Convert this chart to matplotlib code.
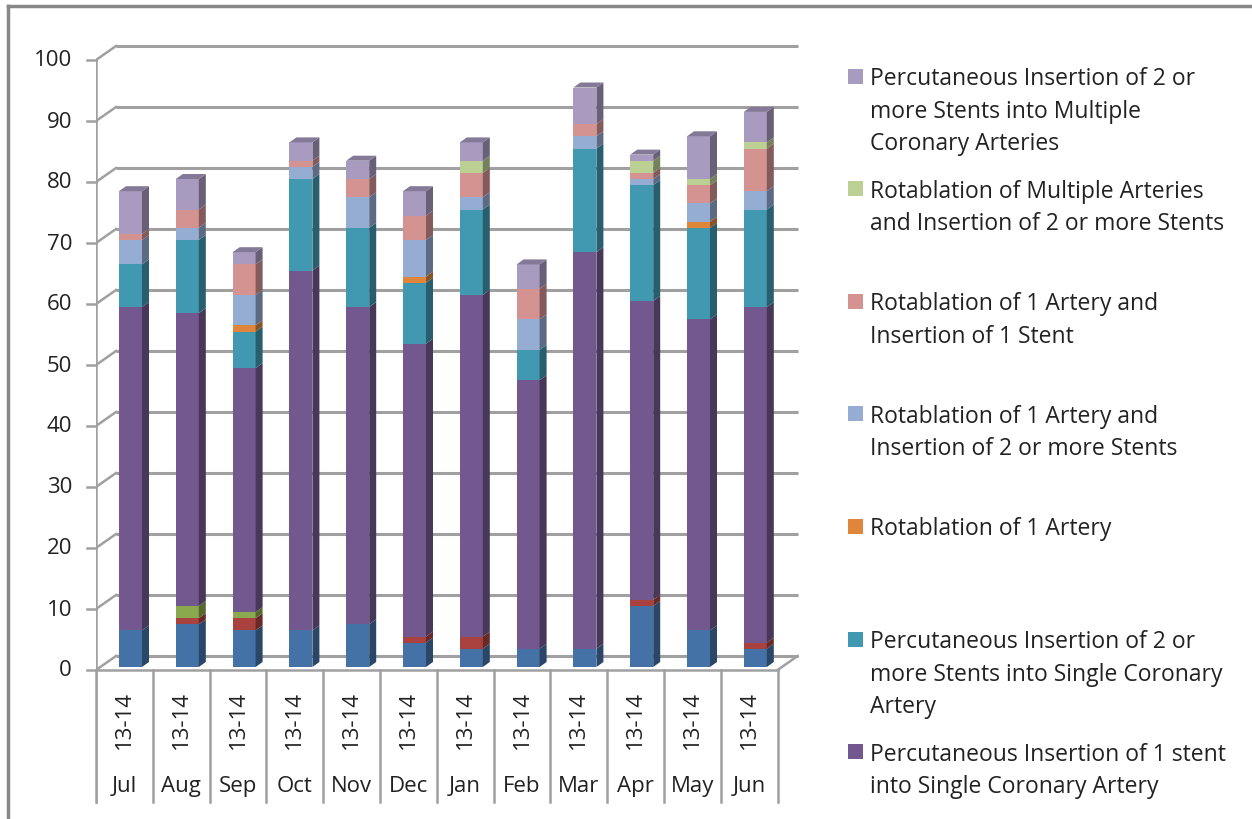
import numpy as np
import matplotlib
matplotlib.use('Agg')
import matplotlib.pyplot as plt
from matplotlib.patches import Polygon, Rectangle
from matplotlib.lines import Line2D
from matplotlib.colors import to_rgb

plt.rcParams['font.family'] = ['Open Sans', 'DejaVu Sans']

months = ['Jul', 'Aug', 'Sep', 'Oct', 'Nov', 'Dec', 'Jan', 'Feb', 'Mar', 'Apr', 'May', 'Jun']
year_label = '13-14'

# stacked series, bottom to top
blue      = [6, 7, 6, 6, 7, 4, 3, 3, 3, 10, 6, 3]
red       = [0, 1, 2, 0, 0, 1, 2, 0, 0, 1, 0, 1]
green     = [0, 2, 1, 0, 0, 0, 0, 0, 0, 0, 0, 0]
one_stent = [53, 48, 40, 59, 52, 48, 56, 44, 65, 49, 51, 55]
multi_single = [7, 12, 6, 15, 13, 10, 14, 5, 17, 19, 15, 16]
rota1     = [0, 0, 1, 0, 0, 1, 0, 0, 0, 0, 1, 0]
rota1_2   = [4, 2, 5, 2, 5, 6, 2, 5, 2, 1, 3, 3]
rota1_1   = [1, 3, 5, 1, 3, 4, 4, 5, 2, 1, 3, 7]
rota_multi = [0, 0, 0, 0, 0, 0, 2, 0, 0, 2, 1, 1]
multi_multi = [7, 5, 2, 3, 3, 4, 3, 4, 6, 1, 7, 5]

series = [blue, red, green, one_stent, multi_single, rota1, rota1_2, rota1_1, rota_multi, multi_multi]
colors = ['#4472A6', '#A9423F', '#8AA84D', '#73588F', '#4198B1', '#E0863A',
          '#95ACD3', '#D49391', '#BCD094', '#A99BC0']
legend_colors = ['#A99BC0', '#BCD094', '#D49391', '#95ACD3', '#E0863A', '#4198B1', '#73588F']
legend_labels = [
    'Percutaneous Insertion of 2 or\nmore Stents into Multiple\nCoronary Arteries',
    'Rotablation of Multiple Arteries\nand Insertion of 2 or more Stents',
    'Rotablation of 1 Artery and\nInsertion of 1 Stent',
    'Rotablation of 1 Artery and\nInsertion of 2 or more Stents',
    'Rotablation of 1 Artery',
    'Percutaneous Insertion of 2 or\nmore Stents into Single Coronary\nArtery',
    'Percutaneous Insertion of 1 stent\ninto Single Coronary Artery',
]


def shade(c, f):
    r, g, b = to_rgb(c)
    return (r * f, g * f, b * f)


W, H = 1252, 820
FS = 16
TXT = '#222222'
fig = plt.figure(figsize=(W / 100, H / 100), dpi=100)

# axes covers the chart area; data scale: 1 category = 56.8 px, 1 unit = 6.1 px
px_x, px_y = 56.8, 6.1
left_px, right_px, top_px, bot_px = 96, 800, 40, 805
ax = fig.add_axes([left_px / W, 1 - bot_px / H, (right_px - left_px) / W, (bot_px - top_px) / H])
ax.set_xlim(-0.5, -0.5 + (right_px - left_px) / px_x)
ax.set_ylim((671 - bot_px) / px_y, (671 - top_px) / px_y)
ax.axis('off')

# depth offsets (back wall and bars), in data units
wdx, wdy = 20 / px_x, 14 / px_y
bdx, bdy = 7 / px_x, 5 / px_y
fy = 3 / px_y
grid_c = '#A0A0A0'
n = len(months)
x = np.arange(n)

# back wall gridlines and left wall
for v in range(0, 101, 10):
    ax.plot([-0.5 + wdx, n - 0.5 + wdx], [v + wdy, v + wdy], color=grid_c, lw=2.2, zorder=1,
            solid_capstyle='butt')
    ax.plot([-0.5, -0.5 + wdx], [v, v + wdy], color=grid_c, lw=1.8, zorder=1)
    ax.plot([-0.5 - 9 / px_x, -0.5], [v, v], color=grid_c, lw=1.8, zorder=1, clip_on=False)
    ax.text(-0.5 - 24 / px_x, v, str(v), ha='right', va='center', fontsize=FS,
            color=TXT, clip_on=False)
ax.plot([-0.5, -0.5], [(671 - 803) / px_y, 100], color=grid_c, lw=1.8, zorder=1)
# floor
ax.plot([-0.5, n - 0.5], [0, 0], color=grid_c, lw=1.8, zorder=1)
ax.plot([n - 0.5, n - 0.5 + wdx], [0, wdy], color=grid_c, lw=1.8, zorder=1)

# category table
tb = (671 - 803) / px_y
for k in range(n + 1):
    ax.plot([k - 0.5, k - 0.5], [tb, 0], color=grid_c, lw=1.8, zorder=1, clip_on=False)
for i, m in enumerate(months):
    ax.text(i, (671 - 720) / px_y, year_label, rotation=90, ha='center', va='center',
            fontsize=FS, color=TXT)
    ax.text(i, (671 - 787) / px_y, m, ha='center', va='center', fontsize=FS, color=TXT)

# 3-D looking stacked bars
bw = 23 / px_x
xs = x + (130.5 - 96) / px_x - 0.5
bottom = np.full(n, fy)
for vals, c in zip(series, colors):
    vals = np.array(vals, dtype=float)
    ax.bar(xs, vals, bw, bottom=bottom, color=c, linewidth=0, zorder=3)
    for i in range(n):
        if vals[i] <= 0:
            continue
        b, t = bottom[i], bottom[i] + vals[i]
        xr = xs[i] + bw / 2
        ax.add_patch(Polygon([(xr, b), (xr + bdx, b + bdy), (xr + bdx, t + bdy), (xr, t)],
                             closed=True, facecolor=shade(c, 0.62), lw=0, zorder=3))
    bottom = bottom + vals

# top caps
top_col = [next(colors[k] for k in range(len(series) - 1, -1, -1) if series[k][i] > 0)
           for i in range(n)]
for i in range(n):
    t = bottom[i]
    xl, xr = xs[i] - bw / 2, xs[i] + bw / 2
    ax.add_patch(Polygon([(xl, t), (xr, t), (xr + bdx, t + bdy), (xl + bdx, t + bdy)],
                         closed=True, facecolor=shade(top_col[i], 0.78), lw=0, zorder=4))

# legend
y0 = 77
for k, (lab, c) in enumerate(zip(legend_labels, legend_colors)):
    yy = y0 + k * 112.6
    fig.patches.append(Rectangle((848 / W, 1 - (yy + 7.5) / H), 15 / W, 15 / H,
                                 transform=fig.transFigure, facecolor=c, lw=0))
    fig.text(870 / W, 1 - (yy - 10) / H, lab, ha='left', va='top', fontsize=16.5,
             color=TXT, linespacing=1.48)

# outer frame
fig.add_artist(Line2D([8 / W, 1], [1 - 7 / H, 1 - 7 / H], color='#888888', lw=2.5))
fig.add_artist(Line2D([8 / W, 8 / W], [0, 1 - 7 / H], color='#888888', lw=2.5))

fig.savefig('out.png', dpi=100)
